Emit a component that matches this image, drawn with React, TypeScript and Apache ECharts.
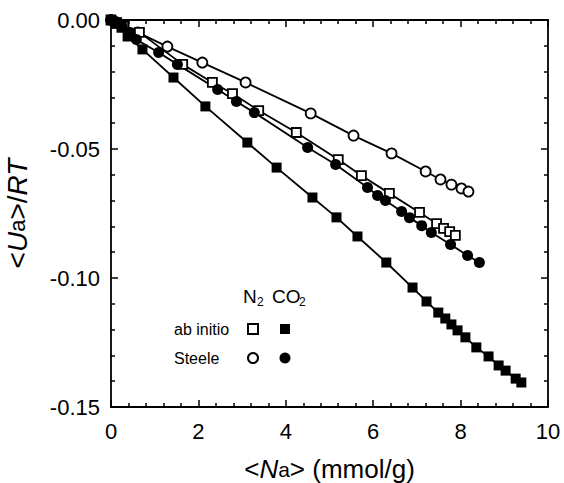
import React, { useEffect, useRef } from "react";
import * as echarts from "echarts";

// Adsorbed loading <Na> (mmol/g) and reduced adsorption energy <Ua>/RT

// CO2, ab initio potential
const co2AbInitioX = [0, 0.13, 0.24, 0.38, 0.72, 1.43, 2.16, 3.12, 3.79, 4.61, 5.16, 5.64, 6.3, 6.9, 7.22, 7.49, 7.65, 7.79, 7.93, 8.11, 8.36, 8.64, 8.87, 9.03, 9.26, 9.39];
const co2AbInitioY = [0, -0.0015, -0.003, -0.0064, -0.0114, -0.0223, -0.0335, -0.0475, -0.0572, -0.0688, -0.0765, -0.0839, -0.094, -0.1037, -0.1091, -0.1134, -0.1157, -0.118, -0.1203, -0.123, -0.1269, -0.1304, -0.1339, -0.1359, -0.139, -0.1405];

// CO2, Steele potential
const co2SteeleX = [0, 0.11, 0.25, 0.43, 0.58, 1.09, 1.52, 2.44, 2.87, 3.28, 4.5, 5.14, 5.87, 6.1, 6.28, 6.65, 6.83, 7.11, 7.33, 7.77, 8.16, 8.43];
const co2SteeleY = [0, -0.001, -0.0025, -0.0048, -0.0076, -0.0126, -0.0172, -0.0269, -0.0316, -0.0359, -0.0494, -0.056, -0.0649, -0.068, -0.07, -0.0742, -0.0766, -0.0797, -0.0824, -0.087, -0.0913, -0.094];

// N2, ab initio potential
const n2AbInitioX = [0, 0.13, 0.29, 0.65, 1.64, 2.32, 2.78, 3.38, 4.24, 5.2, 5.73, 6.37, 7.06, 7.45, 7.61, 7.75, 7.88];
const n2AbInitioY = [0, -0.001, -0.0025, -0.0048, -0.0172, -0.0242, -0.0285, -0.0351, -0.0436, -0.0541, -0.0603, -0.0672, -0.0746, -0.0789, -0.0808, -0.082, -0.0835];

// N2, Steele potential
const n2SteeleX = [0, 0.11, 0.29, 0.61, 1.29, 2.09, 3.08, 4.57, 5.55, 6.42, 7.2, 7.54, 7.79, 8.02, 8.18];
const n2SteeleY = [0, -0.0008, -0.002, -0.0048, -0.0103, -0.0165, -0.0242, -0.0362, -0.0448, -0.0517, -0.0587, -0.0618, -0.0638, -0.0653, -0.0665];

const FONT = "'Liberation Sans', Arial, Helvetica, sans-serif";

const zip = (xs: number[], ys: number[]) => xs.map((x, i) => [x, ys[i]]);

const makeSeries = (
  name: string,
  xs: number[],
  ys: number[],
  symbol: string,
  filled: boolean,
  size: number
) => ({
  name,
  type: "line",
  data: zip(xs, ys),
  symbol,
  symbolSize: size,
  showAllSymbol: true,
  lineStyle: { color: "#000", width: 1.8 },
  itemStyle: {
    color: filled ? "#000" : "#fff",
    borderColor: "#000",
    borderWidth: filled ? 0 : 1.8,
  },
  emphasis: { disabled: true },
  z: 3,
});

const tickStyle = { show: true, inside: true, length: 7, lineStyle: { color: "#000", width: 1.5 } };
const minorStyle = { show: true, splitNumber: 5, length: 4, lineStyle: { color: "#000", width: 1.5 } };
const lineStyle = { show: true, onZero: false, lineStyle: { color: "#000", width: 1.8 } };

export default function App() {
  const ref = useRef<HTMLDivElement>(null);

  useEffect(() => {
    if (!ref.current) return;
    const chart = echarts.init(ref.current, null, { renderer: "svg" });

    const legendText = (text: string, x: number, y: number, size: number) => ({
      type: "text",
      x,
      y,
      style: { text, fontFamily: FONT, fontSize: size, fill: "#000", textVerticalAlign: "middle" },
    });

    chart.setOption({
      animation: false,
      backgroundColor: "#fff",
      grid: {
        left: 111,
        right: 16,
        top: 20,
        bottom: 76,
        containLabel: false,
        outerBoundsMode: "none",
      },
      xAxis: [
        {
          type: "value",
          min: 0,
          max: 10,
          interval: 2,
          position: "bottom",
          axisLine: lineStyle,
          axisTick: tickStyle,
          minorTick: minorStyle,
          splitLine: { show: false },
          axisLabel: { fontFamily: FONT, fontSize: 22, color: "#000", margin: 13 },
          name: "<{i|N}{s|a}> (mmol/g)",
          nameLocation: "middle",
          nameGap: 49,
          nameTextStyle: {
            fontFamily: FONT,
            fontSize: 26,
            color: "#000",
            rich: {
              i: { fontFamily: FONT, fontSize: 26, fontStyle: "italic", color: "#000" },
              s: { fontFamily: FONT, fontSize: 21, color: "#000" },
            },
          },
        },
        {
          type: "value",
          min: 0,
          max: 10,
          interval: 2,
          position: "top",
          axisLine: lineStyle,
          axisTick: tickStyle,
          minorTick: minorStyle,
          splitLine: { show: false },
          axisLabel: { show: false },
        },
      ],
      yAxis: [
        {
          type: "value",
          min: -0.15,
          max: 0,
          interval: 0.05,
          position: "left",
          axisLine: lineStyle,
          axisTick: tickStyle,
          minorTick: minorStyle,
          splitLine: { show: false },
          axisLabel: {
            fontFamily: FONT,
            fontSize: 22,
            color: "#000",
            margin: 11,
            formatter: (v: number) => v.toFixed(2),
          },
          name: "<{i|U}{s|a}>/{i|RT}",
          nameLocation: "middle",
          nameRotate: 90,
          nameGap: 80,
          nameTextStyle: {
            fontFamily: FONT,
            fontSize: 28,
            color: "#000",
            rich: {
              i: { fontFamily: FONT, fontSize: 28, fontStyle: "italic", color: "#000" },
              s: { fontFamily: FONT, fontSize: 22, color: "#000" },
            },
          },
        },
        {
          type: "value",
          min: -0.15,
          max: 0,
          interval: 0.05,
          position: "right",
          axisLine: lineStyle,
          axisTick: tickStyle,
          minorTick: minorStyle,
          splitLine: { show: false },
          axisLabel: { show: false },
        },
      ],
      series: [
        makeSeries("N2 Steele", n2SteeleX, n2SteeleY, "circle", false, 10),
        makeSeries("N2 ab initio", n2AbInitioX, n2AbInitioY, "rect", false, 9),
        makeSeries("CO2 Steele", co2SteeleX, co2SteeleY, "circle", true, 11),
        makeSeries("CO2 ab initio", co2AbInitioX, co2AbInitioY, "rect", true, 10),
      ],
      graphic: [
        legendText("N", 243, 296, 19),
        legendText("2", 257, 302, 12),
        legendText("CO", 272, 296, 19),
        legendText("2", 299, 302, 12),
        legendText("ab initio", 174, 329, 16),
        legendText("Steele", 174, 358, 16),
        {
          type: "rect",
          shape: { x: 248, y: 324, width: 10, height: 10 },
          style: { fill: "#fff", stroke: "#000", lineWidth: 2 },
        },
        {
          type: "rect",
          shape: { x: 280, y: 324, width: 10, height: 10 },
          style: { fill: "#000" },
        },
        {
          type: "circle",
          shape: { cx: 253, cy: 358, r: 5 },
          style: { fill: "#fff", stroke: "#000", lineWidth: 2 },
        },
        {
          type: "circle",
          shape: { cx: 285, cy: 358, r: 5.5 },
          style: { fill: "#000" },
        },
      ],
    });

    return () => chart.dispose();
  }, []);

  return <div ref={ref} style={{ width: 564, height: 483, position: "absolute", left: 0, top: 0 }} />;
}
